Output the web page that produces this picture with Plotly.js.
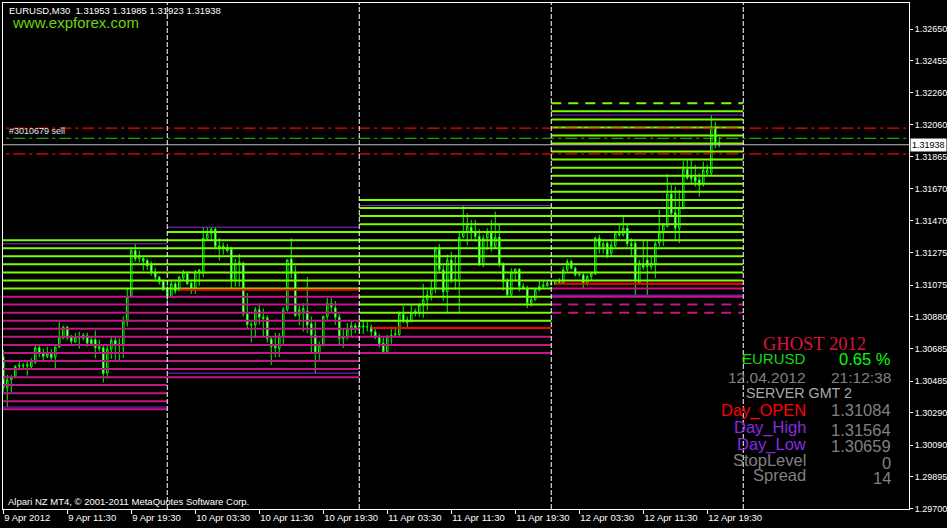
<!DOCTYPE html>
<html>
<head>
<meta charset="utf-8">
<script src="https://cdn.plot.ly/plotly-3.0.1.min.js"></script>
<style>
html,body{margin:0;padding:0;background:#000;}
#chart{width:947px;height:528px;}
</style>
</head>
<body>
<div id="chart"></div>
<script>
// ---------- DATA ----------
const firstBar = '2012-04-09 03:30';   // first visible M30 bar
const barMinutes = 30;

const open = [1.30634,1.30444,1.30493,1.30509,1.30575,1.30581,1.30578,1.30571,1.30600,1.30690,
1.30663,1.30636,1.30653,1.30632,1.30694,1.30749,1.30817,1.30759,1.30725,1.30749,
1.30749,1.30763,1.30739,1.30739,1.30685,1.30690,1.30534,1.30681,1.30735,1.30702,
1.30714,1.30849,1.31005,1.31287,1.31238,1.31238,1.31226,1.31201,1.31156,1.31124,
1.31099,1.31054,1.31001,1.31083,1.31042,1.31118,1.31148,1.31087,1.31050,1.31152,
1.31148,1.31361,1.31390,1.31419,1.31316,1.31304,1.31308,1.31296,1.31112,1.31206,
1.31210,1.30899,1.30833,1.30830,1.30923,1.30878,1.30874,1.30743,1.30702,1.30685,
1.30759,1.30923,1.31235,1.31148,1.30890,1.30911,1.30915,1.30837,1.30767,1.30661,
1.30706,1.30882,1.30964,1.30935,1.30878,1.30747,1.30756,1.30800,1.30825,1.30808,
1.30825,1.30817,1.30817,1.30788,1.30759,1.30718,1.30665,1.30759,1.30767,1.30771,
1.30894,1.30861,1.30853,1.30903,1.30903,1.30948,1.30985,1.31014,1.31054,1.31296,
1.31169,1.31034,1.31230,1.31112,1.31112,1.31374,1.31398,1.31431,1.31404,1.31374,
1.31200,1.31364,1.31398,1.31312,1.31370,1.31206,1.31097,1.31015,1.31148,1.31173,
1.31066,1.31056,1.30964,1.30985,1.31046,1.31066,1.31071,1.31084,1.31080,1.31095,
1.31087,1.31169,1.31220,1.31179,1.31138,1.31138,1.31083,1.31128,1.31144,1.31364,
1.31312,1.31333,1.31270,1.31316,1.31394,1.31384,1.31425,1.31329,1.31333,1.31087,
1.31200,1.31230,1.31189,1.31200,1.31333,1.31394,1.31435,1.31636,1.31521,1.31425,
1.31548,1.31788,1.31747,1.31740,1.31722,1.31691,1.31763,1.31763,1.32046,1.31953];

const high = [1.30677,1.30523,1.30523,1.30583,1.30616,1.30595,1.30605,1.30626,1.30706,1.30702,
1.30683,1.30697,1.30681,1.30697,1.30850,1.30825,1.30825,1.30769,1.30780,1.30788,
1.30780,1.30783,1.30756,1.30796,1.30739,1.30702,1.30708,1.30759,1.30763,1.30747,
1.30882,1.31057,1.31296,1.31329,1.31286,1.31255,1.31238,1.31222,1.31179,1.31132,
1.31107,1.31075,1.31107,1.31097,1.31132,1.31169,1.31161,1.31107,1.31169,1.31173,
1.31431,1.31431,1.31431,1.31431,1.31364,1.31337,1.31329,1.31311,1.31235,1.31267,
1.31220,1.31026,1.30851,1.30940,1.30964,1.30931,1.30890,1.30759,1.30780,1.30780,
1.30940,1.31235,1.31364,1.31193,1.30956,1.30964,1.31124,1.30882,1.30851,1.30728,
1.30890,1.30995,1.30995,1.30977,1.30899,1.30804,1.30841,1.30851,1.30841,1.30851,
1.30857,1.30849,1.30833,1.30804,1.30775,1.30759,1.30767,1.30820,1.30820,1.30913,
1.30948,1.30882,1.30952,1.30931,1.30964,1.31083,1.31046,1.31107,1.31311,1.31329,
1.31200,1.31263,1.31281,1.31261,1.31404,1.31564,1.31517,1.31476,1.31476,1.31419,
1.31384,1.31425,1.31476,1.31527,1.31455,1.31214,1.31118,1.31179,1.31179,1.31179,
1.31087,1.31071,1.31005,1.31057,1.31103,1.31107,1.31107,1.31095,1.31107,1.31118,
1.31189,1.31235,1.31230,1.31189,1.31158,1.31148,1.31138,1.31158,1.31374,1.31384,
1.31343,1.31343,1.31343,1.31404,1.31445,1.31496,1.31455,1.31364,1.31353,1.31230,
1.31357,1.31353,1.31251,1.31343,1.31538,1.31455,1.31759,1.31691,1.31681,1.31660,
1.31841,1.31849,1.31855,1.31814,1.31763,1.31834,1.31814,1.32121,1.32080,1.31985];

const low = [1.30419,1.30327,1.30415,1.30503,1.30550,1.30554,1.30519,1.30559,1.30591,1.30632,
1.30600,1.30626,1.30616,1.30559,1.30690,1.30743,1.30739,1.30714,1.30719,1.30685,
1.30735,1.30697,1.30704,1.30624,1.30667,1.30476,1.30501,1.30620,1.30616,1.30611,
1.30628,1.30820,1.30995,1.31220,1.31215,1.31165,1.31169,1.31132,1.31107,1.31077,
1.31038,1.30974,1.30997,1.31021,1.31036,1.31103,1.31075,1.31021,1.31021,1.31071,
1.31124,1.31349,1.31353,1.31304,1.31226,1.31263,1.31275,1.31057,1.31066,1.31066,
1.30882,1.30804,1.30722,1.30749,1.30833,1.30759,1.30722,1.30585,1.30632,1.30632,
1.30702,1.30912,1.31118,1.30882,1.30830,1.30790,1.30780,1.30657,1.30534,1.30616,
1.30697,1.30861,1.30903,1.30831,1.30708,1.30690,1.30739,1.30759,1.30780,1.30790,
1.30775,1.30790,1.30759,1.30743,1.30690,1.30659,1.30662,1.30714,1.30751,1.30759,
1.30841,1.30812,1.30845,1.30882,1.30882,1.30874,1.30919,1.30980,1.31026,1.31148,
1.30980,1.30906,1.31087,1.31046,1.30903,1.31364,1.31322,1.31353,1.31343,1.31193,
1.31185,1.31292,1.31281,1.31302,1.31185,1.31042,1.31005,1.31005,1.31097,1.31036,
1.31046,1.30933,1.30943,1.30980,1.31036,1.31057,1.31064,1.31071,1.31077,1.31077,
1.31077,1.31158,1.31169,1.31128,1.31128,1.31057,1.31071,1.31107,1.31138,1.31270,
1.31270,1.31241,1.31251,1.31308,1.31374,1.31374,1.31311,1.31251,1.31015,1.31077,
1.31169,1.31015,1.31169,1.31118,1.31311,1.31316,1.31431,1.31496,1.31353,1.31333,
1.31538,1.31722,1.31702,1.31681,1.31619,1.31681,1.31753,1.31753,1.31917,1.31923];

const close = [1.30444,1.30493,1.30505,1.30575,1.30581,1.30578,1.30585,1.30608,1.30690,1.30653,
1.30636,1.30653,1.30628,1.30694,1.30751,1.30817,1.30749,1.30728,1.30756,1.30759,
1.30767,1.30718,1.30714,1.30690,1.30697,1.30530,1.30681,1.30735,1.30702,1.30714,
1.30849,1.31001,1.31287,1.31235,1.31255,1.31222,1.31193,1.31156,1.31124,1.31095,
1.31046,1.31001,1.31083,1.31038,1.31124,1.31156,1.31083,1.31042,1.31158,1.31169,
1.31364,1.31390,1.31419,1.31312,1.31304,1.31316,1.31287,1.31107,1.31206,1.31218,
1.30899,1.30833,1.30830,1.30923,1.30878,1.30870,1.30747,1.30697,1.30688,1.30763,
1.30923,1.31230,1.31148,1.30886,1.30923,1.30931,1.30830,1.30767,1.30661,1.30706,
1.30882,1.30964,1.30940,1.30878,1.30747,1.30759,1.30800,1.30825,1.30808,1.30825,
1.30817,1.30820,1.30788,1.30759,1.30714,1.30665,1.30759,1.30767,1.30775,1.30899,
1.30861,1.30845,1.30903,1.30915,1.30952,1.30985,1.31014,1.31054,1.31296,1.31169,
1.31034,1.31230,1.31107,1.31103,1.31370,1.31402,1.31439,1.31398,1.31374,1.31200,
1.31364,1.31398,1.31312,1.31370,1.31200,1.31095,1.31015,1.31152,1.31173,1.31066,
1.31062,1.30964,1.30985,1.31046,1.31066,1.31077,1.31087,1.31080,1.31095,1.31087,
1.31169,1.31220,1.31179,1.31138,1.31144,1.31083,1.31128,1.31148,1.31364,1.31312,
1.31329,1.31261,1.31322,1.31394,1.31384,1.31425,1.31329,1.31316,1.31107,1.31210,
1.31185,1.31189,1.31210,1.31329,1.31394,1.31445,1.31636,1.31517,1.31425,1.31548,
1.31788,1.31734,1.31730,1.31712,1.31687,1.31783,1.31783,1.32046,1.31948,1.31938];

// day blocks of the "GHOST" indicator
const dayStarts = ['2012-04-09 00:00','2012-04-10 00:00','2012-04-11 00:00','2012-04-12 00:00'];
const dayEnds   = ['2012-04-10 00:00','2012-04-11 00:00','2012-04-12 00:00','2012-04-13 00:00'];
const limeLevels = [
  [1.31351,1.31302,1.31252,1.31203,1.31153,1.31104,1.31054],
  [1.31401,1.31351,1.31302,1.31252,1.31203,1.31153,1.31104,1.31054],
  [1.31599,1.31549,1.31500,1.31450,1.31401,1.31351,1.31302,1.31252,1.31203,1.31153,1.31104,1.31054,1.31004,1.30955,1.30905,1.30856],
  [1.32144,1.32094,1.32045,1.31995,1.31946,1.31896,1.31847,1.31797,1.31748,1.31698,1.31649,1.31599,1.31549,1.31500,1.31450,1.31401,1.31351,1.31302,1.31252,1.31203,1.31153,1.31104]
];
const magentaLevels = [
  [1.31004,1.30955,1.30905,1.30856,1.30806,1.30757,1.30707,1.30658,1.30608,1.30559,1.30509,1.30460,1.30410,1.30361,1.30311],
  [1.31004,1.30955,1.30905,1.30856,1.30806,1.30757,1.30707,1.30658,1.30608,1.30559,1.30509],
  [1.30757,1.30707,1.30658],
  [1.31054,1.31004]
];
const limeDashedLevels = [[],[],[],[1.32193]];
const magentaDashedLevels = [[],[],[],[1.30955,1.30905]];
const dayHighs = [1.31329,1.31431,1.31564,1.32121];
const dayLows  = [1.30325,1.30534,1.30659,1.31013];
const dayOpens = [null,1.31046,1.30811,1.31084];
const openLineStarts = [null,'2012-04-10 01:30','2012-04-11 01:30','2012-04-12 00:30'];
const daySeparators = ['2012-04-10 00:00','2012-04-11 00:00','2012-04-12 00:00','2012-04-13 00:00'];

// order / price lines
const stopLossLevel = 1.32040;
const orderOpenLevel = 1.31978;
const takeProfitLevel = 1.31882;
const bidPrice = 1.31938;
const orderLabel = '#3010679 sell';

// axes
const xTickVals = ['2012-04-09 03:30','2012-04-09 11:30','2012-04-09 19:30','2012-04-10 03:30','2012-04-10 11:30','2012-04-10 19:30',
  '2012-04-11 03:30','2012-04-11 11:30','2012-04-11 19:30','2012-04-12 03:30','2012-04-12 11:30','2012-04-12 19:30'];
const xTickText = ['9 Apr 2012','9 Apr 11:30','9 Apr 19:30','10 Apr 03:30','10 Apr 11:30','10 Apr 19:30',
  '11 Apr 03:30','11 Apr 11:30','11 Apr 19:30','12 Apr 03:30','12 Apr 11:30','12 Apr 19:30'];
const yTickVals = [1.32650,1.32455,1.32260,1.32060,1.31865,1.31670,1.31470,1.31275,1.31075,1.30880,1.30685,1.30485,1.30290,1.30090,1.29895,1.29700];
const yTickText = ['1.32650','1.32455','1.32260','1.32060','1.31865','1.31670','1.31470','1.31275','1.31075','1.30880','1.30685','1.30485','1.30290','1.30090','1.29895','1.29700'];

// texts
const headerText = 'EURUSD,M30\u00a0\u00a01.31953 1.31985 1.31923 1.31938';
const siteText = 'www.expforex.com';
const copyrightText = 'Alpari NZ MT4, \u00a9 2001-2011 MetaQuotes Software Corp.';
const panelTitle = 'GHOST 2012';
const panelLabels = ['EURUSD','12.04.2012','Day_OPEN','Day_High','Day_Low','StopLevel','Spread'];
const panelValues = ['0.65 %','21:12:38','1.31084','1.31564','1.30659','0','14'];
const serverText = 'SERVER GMT 2';

// ---------- BUILD ----------
function pad(n){return (n<10?'0':'')+n;}
function barTimes(n){
  const base = firstBar.split(' ');
  const d0 = parseInt(base[0].slice(8,10),10);
  const hm = base[1].split(':');
  const m0 = parseInt(hm[0],10)*60+parseInt(hm[1],10);
  const out=[];
  for(let i=0;i<n;i++){
    const m = m0 + i*barMinutes;
    const day = d0 + Math.floor(m/1440);
    const r = m % 1440;
    out.push('2012-04-'+pad(day)+' '+pad(Math.floor(r/60))+':'+pad(r%60));
  }
  return out;
}
const times = barTimes(open.length);

function segs(levelsByDay, starts, ends){
  const x=[],y=[];
  levelsByDay.forEach((lv,d)=>{
    (Array.isArray(lv)?lv:[lv]).forEach(v=>{
      if(v===null||v===undefined) return;
      x.push(starts[d],ends[d],null); y.push(v,v,null);
    });
  });
  return {x,y};
}
function lineTrace(s,color,width,dash){
  return {type:'scatter',mode:'lines',x:s.x,y:s.y,hoverinfo:'skip',showlegend:false,
    line:{color:color,width:width,dash:dash||'solid'},connectgaps:false};
}

const LIME='#7CFC00', MAG='#C71585', PURP='#8A2BE2';
const traces=[];
traces.push(lineTrace(segs(dayHighs,dayStarts,dayEnds),PURP,1));
traces.push(lineTrace(segs(dayLows,dayStarts,dayEnds),PURP,1));
traces.push(lineTrace(segs(limeLevels,dayStarts,dayEnds),LIME,2));
traces.push(lineTrace(segs(magentaLevels,dayStarts,dayEnds),MAG,2));
traces.push(lineTrace(segs(limeDashedLevels,dayStarts,dayEnds),LIME,2,'10px,7px'));
traces.push(lineTrace(segs(magentaDashedLevels,dayStarts,dayEnds),MAG,2,'10px,7px'));
traces.push(lineTrace(segs(dayOpens,openLineStarts,dayEnds),'#FF0000',2));

const farLeft='2012-04-08 00:00', farRight='2012-04-15 00:00';
traces.push(lineTrace({x:[farLeft,farRight],y:[bidPrice,bidPrice]},'#C0C0C0',1));
traces.push(lineTrace({x:[farLeft,farRight,null,farLeft,farRight],y:[stopLossLevel,stopLossLevel,null,takeProfitLevel,takeProfitLevel]},'#FF0000',1.3,'12px,4px,3px,4px'));
traces.push(lineTrace({x:[farLeft,farRight],y:[orderOpenLevel,orderOpenLevel]},'#22CC22',1,'12px,4px,3px,4px'));

traces.push({
  type:'candlestick', x:times, open:open, high:high, low:low, close:close,
  increasing:{line:{color:'#00FF00',width:1},fillcolor:'#000000'},
  decreasing:{line:{color:'#00FF00',width:1},fillcolor:'#FFFFFF'},
  whiskerwidth:0, hoverinfo:'skip', showlegend:false
});

const shapes = daySeparators.map(d=>({type:'line',xref:'x',yref:'paper',x0:d,x1:d,y0:0,y1:1,layer:'above',
  line:{color:'#FFFFFF',width:1,dash:'5px,2px'}}));

// pixel helpers for text placement inside plot area (x:3..909, y:3..509)
const PX=(px)=> (px-3)/906, PY=(py)=> (509-py)/506;
const F='Liberation Sans, Arial, sans-serif';
const ann=[];
ann.push({xref:'paper',yref:'paper',x:PX(7),y:PY(10),xanchor:'left',yanchor:'middle',showarrow:false,text:headerText,font:{family:F,size:9.5,color:'#FFFFFF'}});
ann.push({xref:'paper',yref:'paper',x:PX(10),y:PY(22),xanchor:'left',yanchor:'middle',showarrow:false,text:siteText,font:{family:F,size:15,color:'#6CD414'}});
ann.push({xref:'paper',yref:'y',x:PX(7),y:orderOpenLevel,xanchor:'left',yanchor:'bottom',yshift:0,showarrow:false,text:orderLabel,font:{family:F,size:9,color:'#E8E8E8'}});
ann.push({xref:'paper',yref:'paper',x:PX(6),y:PY(501),xanchor:'left',yanchor:'middle',showarrow:false,text:copyrightText,font:{family:F,size:9.5,color:'#FFFFFF'}});
ann.push({xref:'paper',yref:'y',x:1,y:bidPrice,xanchor:'left',yanchor:'middle',xshift:1,showarrow:false,text:bidPrice.toFixed(5),
  bgcolor:'#FFFFFF',borderpad:1,font:{family:F,size:9,color:'#000000'}});
// info panel
ann.push({xref:'paper',yref:'paper',x:PX(814),y:PY(344),xanchor:'center',yanchor:'middle',showarrow:false,text:panelTitle,font:{family:'Liberation Serif, Times New Roman, serif',size:18.5,color:'#DC143C'}});
ann.push({xref:'paper',yref:'paper',x:PX(799),y:PY(392.5),xanchor:'center',yanchor:'middle',showarrow:false,text:serverText,font:{family:F,size:14.3,color:'#A9A9A9'}});
const labY=[359,378,410,427,444,460,475];
const valY=[359,378,410,430,446,463,478];
const labColor=['#12DC12','#808080','#FF0000',PURP,PURP,'#808080','#808080'];
const valColor=['#00FF00','#808080','#808080','#808080','#808080','#808080','#808080'];
const labSize=[15,15.5,16.5,16.5,16.5,16.5,16.5];
const valSize=[16.5,15.5,16.5,16.5,16.5,16.5,16.5];
panelLabels.forEach((t,i)=>{
  ann.push({xref:'paper',yref:'paper',x:PX(808),y:PY(labY[i]),xanchor:'right',yanchor:'middle',showarrow:false,text:t,font:{family:F,size:labSize[i],color:labColor[i]}});
  ann.push({xref:'paper',yref:'paper',x:PX(893),y:PY(valY[i]),xanchor:'right',yanchor:'middle',showarrow:false,text:panelValues[i],font:{family:F,size:valSize[i],color:valColor[i]}});
});

const layout={
  width:947,height:528,
  margin:{l:3,r:38,t:3,b:19,pad:0},
  paper_bgcolor:'#000000',plot_bgcolor:'#000000',
  showlegend:false,
  boxgap:0.45,
  font:{family:F,color:'#FFFFFF',size:9.5},
  xaxis:{type:'date',range:['2012-04-09 03:28','2012-04-13 20:43'],
    tickvals:xTickVals,ticktext:xTickText,ticks:'outside',ticklen:4,tickcolor:'#FFFFFF',tickwidth:1,
    ticklabelposition:'outside right',
    showline:true,linecolor:'#FFFFFF',linewidth:1,mirror:true,showgrid:false,zeroline:false,
    tickfont:{family:F,size:9.5,color:'#FFFFFF'},rangeslider:{visible:false},fixedrange:true},
  yaxis:{range:[1.29698,1.32810],side:'right',tickvals:yTickVals,ticktext:yTickText,
    ticks:'outside',ticklen:3,tickcolor:'#FFFFFF',tickwidth:1,ticklabelstandoff:0,
    showline:true,linecolor:'#FFFFFF',linewidth:1,mirror:true,showgrid:false,zeroline:false,
    tickfont:{family:F,size:9,color:'#FFFFFF'},fixedrange:true},
  shapes:shapes,
  annotations:ann
};
Plotly.newPlot('chart',traces,layout,{displayModeBar:false,staticPlot:true});
</script>
</body>
</html>
